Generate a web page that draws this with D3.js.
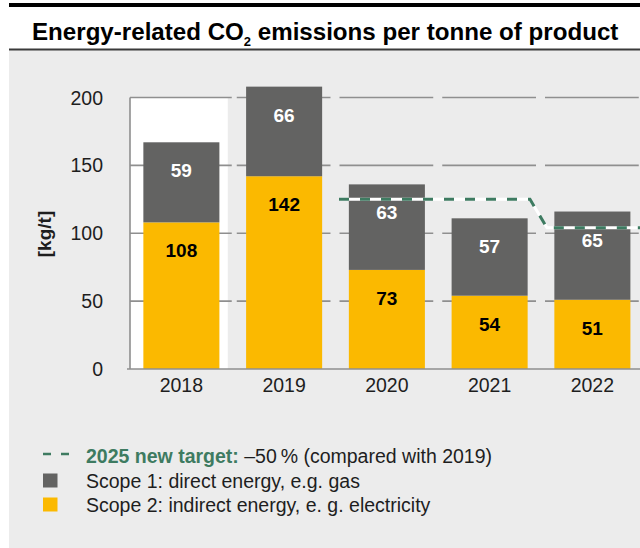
<!DOCTYPE html>
<html>
<head>
<meta charset="utf-8">
<script src="https://cdn.jsdelivr.net/npm/d3@7"></script>
<style>
  html, body { margin: 0; padding: 0; background: #ffffff; }
  svg { display: block; font-family: "Liberation Sans", Arial, Helvetica, sans-serif; }
</style>
</head>
<body>
<svg id="chart" width="640" height="548"></svg>
<script>
// ---- data ----
const years = ["2018", "2019", "2020", "2021", "2022"];
const scope2 = [108, 142, 73, 54, 51];   // indirect energy (yellow, bottom)
const scope1 = [59, 66, 63, 57, 65];     // direct energy (gray, top)
const yTicks = [0, 50, 100, 150, 200];
const targetYears = ["2020", "2021", "2022"];
const targetValues = [125, 125, 104];
const highlightYear = "2018";

const titleMain = "Energy-related CO";
const titleSub = "2";
const titleRest = " emissions per tonne of product";
const yTitle = "[kg/t]";
const legendTargetBold = "2025 new target:";
const legendTargetRest = " \u201350\u202F% (compared with 2019)";
const legendScope1 = "Scope 1: direct energy, e.g. gas";
const legendScope2 = "Scope 2: indirect energy, e. g. electricity";

// ---- styles ----
const C = {
  bg: "#ececec", gray: "#636362", yellow: "#fbb900", grid: "#8f8f8f",
  text: "#1e1e1e", green: "#3e7b61", white: "#ffffff"
};

const svg = d3.select("#chart");

// page background + title bar
svg.append("rect").attr("x", 0).attr("y", 0).attr("width", 640).attr("height", 548).attr("fill", "#ffffff");
svg.append("rect").attr("x", 9).attr("y", 50).attr("width", 631).attr("height", 498).attr("fill", C.bg);
svg.append("rect").attr("x", 9).attr("y", 3).attr("width", 631).attr("height", 4).attr("fill", "#000");
svg.append("rect").attr("x", 9).attr("y", 48.5).attr("width", 631).attr("height", 2).attr("fill", "#3a3a3a");

const title = svg.append("text").attr("x", 32).attr("y", 40)
  .attr("font-weight", "bold").attr("font-size", 21).attr("fill", "#000");
title.append("tspan").text(titleMain);
title.append("tspan").attr("font-size", 13).attr("dy", 6).text(titleSub);
title.append("tspan").attr("dy", -6).text(titleRest);
// fit title width to reference (~588px)
const tw = title.node().getComputedTextLength();
const fs = 21 * 588 / tw;
title.attr("font-size", fs);

// ---- scales ----
const x = d3.scaleBand().domain(years).range([130, 643.75]).paddingInner(0.26).paddingOuter(0.13);
const y = d3.scaleLinear().domain([0, 200]).range([369, 97.5]);
const step = x.step();
const cellStart = d => x(d) - x.paddingOuter() * step;
const cellEnd = d => cellStart(d) + step;

// highlighted (white) column
svg.append("rect")
  .attr("x", cellStart(highlightYear)).attr("y", y(200))
  .attr("width", step - 5).attr("height", y(0) - y(200))
  .attr("fill", C.white);

// gridlines: one segment per category cell
const grid = svg.append("g");
yTicks.filter(t => t > 0).forEach(t => {
  years.forEach(yr => {
    const x0 = yr === highlightYear ? cellStart(yr) : cellStart(yr) + 4;
    const x1 = cellEnd(yr) - (yr === highlightYear ? 1 : 5);
    grid.append("line")
      .attr("x1", x0).attr("x2", Math.min(x1, 640)).attr("y1", y(t)).attr("y2", y(t))
      .attr("stroke", C.grid).attr("stroke-width", 1.6);
  });
});

// left axis line
svg.append("line").attr("x1", 130).attr("x2", 130).attr("y1", y(200)).attr("y2", y(0))
  .attr("stroke", C.grid).attr("stroke-width", 1.6);

// y tick labels
svg.append("g").selectAll("text").data(yTicks).join("text")
  .attr("x", 103).attr("y", d => y(d) + 7)
  .attr("text-anchor", "end").attr("font-size", 19.5).attr("fill", C.text)
  .text(d => d);

// y title
svg.append("text")
  .attr("transform", "translate(51,234) rotate(-90)")
  .attr("text-anchor", "middle").attr("font-weight", "bold").attr("font-size", 19)
  .attr("fill", C.text).text(yTitle);

// ---- bars ----
const stackData = years.map((yr, i) => ({ year: yr, s2: scope2[i], s1: scope1[i] }));
const series = d3.stack().keys(["s2", "s1"])(stackData);
const colors = { s2: C.yellow, s1: C.gray };
const labelColors = { s2: "#000", s1: "#fff" };

series.forEach(s => {
  const g = svg.append("g");
  g.selectAll("rect").data(s).join("rect")
    .attr("x", d => x(d.data.year)).attr("width", x.bandwidth())
    .attr("y", d => y(d[1])).attr("height", d => y(d[0]) - y(d[1]))
    .attr("fill", colors[s.key]);
  g.selectAll("text").data(s).join("text")
    .attr("x", d => x(d.data.year) + x.bandwidth() / 2)
    .attr("y", d => y(d[1]) + 35)
    .attr("text-anchor", "middle").attr("font-weight", "bold").attr("font-size", 19)
    .attr("fill", labelColors[s.key])
    .text(d => d.data[s.key]);
});

// x axis baseline
svg.append("line").attr("x1", 127).attr("x2", 640).attr("y1", y(0)).attr("y2", y(0))
  .attr("stroke", C.grid).attr("stroke-width", 1.6);

// x tick labels
svg.append("g").selectAll("text").data(years).join("text")
  .attr("x", d => x(d) + x.bandwidth() / 2).attr("y", 392)
  .attr("text-anchor", "middle").attr("font-size", 19.5).attr("fill", C.text)
  .text(d => d);

// ---- target line ----
const pts = [[cellStart(targetYears[0]) + 3.5, y(targetValues[0])]];
for (let i = 1; i < targetYears.length; i++) {
  if (targetValues[i] !== targetValues[i - 1]) {
    pts.push([cellStart(targetYears[i]) - 11, y(targetValues[i - 1])]);
    pts.push([cellStart(targetYears[i]) + 6, y(targetValues[i])]);
  }
}
pts.push([cellEnd(targetYears[targetYears.length - 1]), y(targetValues[targetValues.length - 1])]);
const line = d3.line();
svg.append("path").attr("d", line(pts)).attr("fill", "none")
  .attr("stroke", C.white).attr("stroke-width", 3);
svg.append("path").attr("d", line(pts)).attr("fill", "none")
  .attr("stroke", C.green).attr("stroke-width", 3).attr("stroke-dasharray", "10,11");

// ---- legend ----
const lg = svg.append("g");
lg.append("line").attr("x1", 43).attr("x2", 70).attr("y1", 454).attr("y2", 454)
  .attr("stroke", C.green).attr("stroke-width", 2.5).attr("stroke-dasharray", "8,10");
const t1 = lg.append("text").attr("x", 86).attr("y", 463).attr("font-size", 19.5).attr("fill", C.text);
t1.append("tspan").attr("font-weight", "bold").attr("fill", C.green).text(legendTargetBold);
t1.append("tspan").text(legendTargetRest);

lg.append("rect").attr("x", 43).attr("y", 473.5).attr("width", 14.5).attr("height", 14).attr("fill", C.gray);
lg.append("text").attr("x", 86).attr("y", 487.5).attr("font-size", 19.5).attr("fill", C.text).text(legendScope1);
lg.append("rect").attr("x", 43).attr("y", 497.5).attr("width", 14.5).attr("height", 14).attr("fill", C.yellow);
lg.append("text").attr("x", 86).attr("y", 511.5).attr("font-size", 19.5).attr("fill", C.text).text(legendScope2);
</script>
</body>
</html>
